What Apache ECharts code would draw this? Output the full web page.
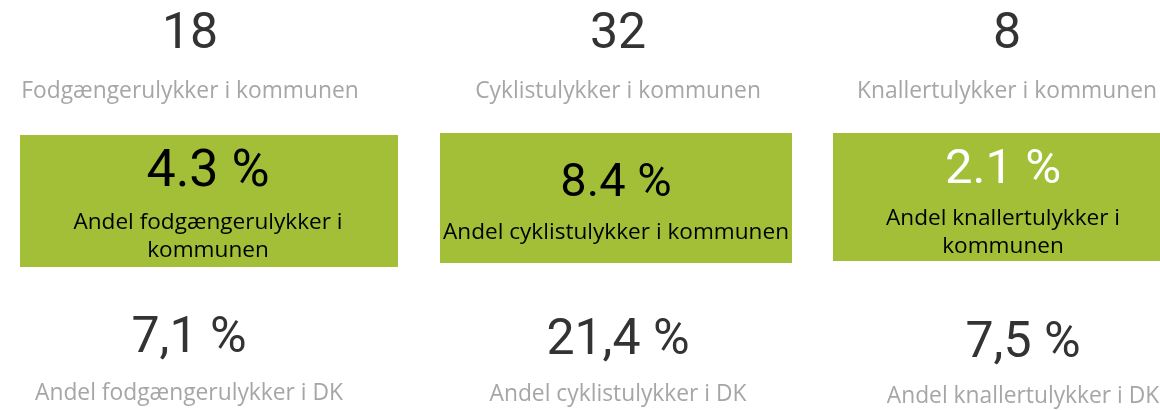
<!DOCTYPE html>
<html>
<head>
<meta charset="utf-8">
<script src="https://cdn.jsdelivr.net/npm/echarts@6/dist/echarts.min.js"></script>
<style>
html,body{margin:0;padding:0;background:#fff;}
#chart{width:1160px;height:410px;}
</style>
</head>
<body>
<div id="chart"></div>
<script>
// ---- data ----
const counts = [18, 32, 8];
const countLabels = ['Fodgængerulykker i kommunen', 'Cyklistulykker i kommunen', 'Knallertulykker i kommunen'];
const shareLocal = ['4.3', '8.4', '2.1'];
const shareLocalLabels = ['Andel fodgængerulykker i\nkommunen', 'Andel cyklistulykker i kommunen', 'Andel knallertulykker i\nkommunen'];
const shareDK = ['7,1', '21,4', '7,5'];
const shareDKLabels = ['Andel fodgængerulykker i DK', 'Andel cyklistulykker i DK', 'Andel knallertulykker i DK'];

// ---- layout (positions / styles) ----
const GREEN = '#a3bf38';
const NUM_FONT = 'Roboto, "DejaVu Sans Condensed", sans-serif';
const LBL_FONT = '"Open Sans", "Noto Sans", sans-serif';
const layout = [
  { topX: 190, topNumY: 35, topLblY: 92, box: [20, 135, 378, 132], boxX: 208, boxNumY: 173, boxNumSize: 52, boxNumColor: '#000', boxLblY: 237, botX: 189, botNumY: 339, botLblY: 394 },
  { topX: 618, topNumY: 35, topLblY: 92, box: [440, 133, 352, 130], boxX: 616, boxNumY: 184, boxNumSize: 47, boxNumColor: '#000', boxLblY: 233, botX: 618, botNumY: 341, botLblY: 395 },
  { topX: 1007, topNumY: 35, topLblY: 92, box: [833, 133, 340, 128], boxX: 1003, boxNumY: 171, boxNumSize: 49, boxNumColor: '#fff', boxLblY: 233, botX: 1023, botNumY: 344, botLblY: 397 }
];

const elements = [];
layout.forEach((L, i) => {
  elements.push({ type: 'text', x: L.topX, y: L.topNumY, style: { text: String(counts[i]), fill: '#333', font: '400 50px ' + NUM_FONT, textAlign: 'center', textVerticalAlign: 'middle' } });
  elements.push({ type: 'text', x: L.topX, y: L.topLblY, style: { text: countLabels[i], fill: '#a6a6a6', font: '400 22.8px ' + LBL_FONT, textAlign: 'center', textVerticalAlign: 'middle' } });
  elements.push({ type: 'rect', shape: { x: L.box[0], y: L.box[1], width: L.box[2], height: L.box[3] }, style: { fill: GREEN } });
  elements.push({ type: 'text', x: L.boxX, y: L.boxNumY, style: { text: shareLocal[i] + ' %', fill: L.boxNumColor, font: '400 ' + L.boxNumSize + 'px ' + NUM_FONT, textAlign: 'center', textVerticalAlign: 'middle' } });
  elements.push({ type: 'text', x: L.boxX, y: L.boxLblY, style: { text: shareLocalLabels[i], fill: '#000', font: '400 22.6px ' + LBL_FONT, lineHeight: 28, textAlign: 'center', textVerticalAlign: 'middle' } });
  elements.push({ type: 'text', x: L.botX, y: L.botNumY, style: { text: shareDK[i] + ' %', fill: '#333', font: '400 50px ' + NUM_FONT, textAlign: 'center', textVerticalAlign: 'middle' } });
  elements.push({ type: 'text', x: L.botX, y: L.botLblY, style: { text: shareDKLabels[i], fill: '#a6a6a6', font: '400 22.8px ' + LBL_FONT, textAlign: 'center', textVerticalAlign: 'middle' } });
});

const chart = echarts.init(document.getElementById('chart'), null, { renderer: 'canvas' });
chart.setOption({ animation: false, graphic: { elements: elements } });
</script>
</body>
</html>
